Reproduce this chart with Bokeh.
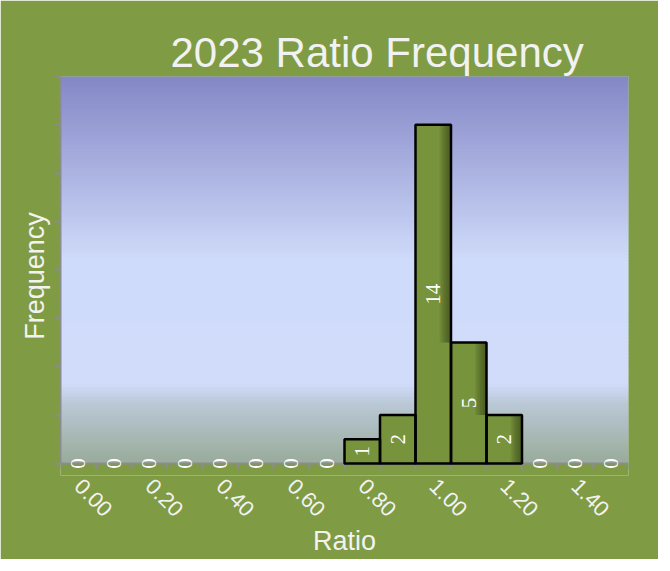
import math
from bokeh.plotting import figure
from bokeh.models import ColumnDataSource, LabelSet, FixedTicker, Range1d
from bokeh.embed import file_html
from bokeh.resources import INLINE

# ---- data ----
ratio_bins = [0.00, 0.10, 0.20, 0.30, 0.40, 0.50, 0.60, 0.70,
              0.80, 0.90, 1.00, 1.10, 1.20, 1.30, 1.40, 1.50]
frequency = [0, 0, 0, 0, 0, 0, 0, 0, 1, 2, 14, 5, 2, 0, 0, 0]
tick_labels = ["0.00", "0.20", "0.40", "0.60", "0.80", "1.00", "1.20", "1.40"]
y_max = 16

# ---- styling ----
FRAME_GREEN = "#7F9B44"
BAR_GREEN = "#77933C"
TEXT = "#F2F2F2"
AXIS_GRAY = "#8C8C8C"
FONT = "Liberation Sans"
Y_PAD = 0.5          # room below the baseline so the "0" labels are not clipped
TICK_LEN = 0.25      # x tick length in data units (~6px)

n = len(ratio_bins)
xs = [i + 0.5 for i in range(n)]
edges = list(range(0, n + 1))

p = figure(width=658, height=559, output_backend="svg", toolbar_location=None,
           x_range=Range1d(0, n), y_range=Range1d(-Y_PAD, y_max),
           min_border_left=60, min_border_right=30, min_border_top=76, min_border_bottom=84)
p.border_fill_color = FRAME_GREEN
p.background_fill_color = FRAME_GREEN
p.outline_line_color = None
p.grid.visible = False

# gradient background of plot area (decorative)
stops = [(0.0, (131, 134, 197)), (0.48, (207, 219, 250)), (0.80, (208, 220, 250)),
         (0.85, (186, 200, 214)), (1.0, (154, 172, 156))]
def grad(t):
    for (t0, c0), (t1, c1) in zip(stops[:-1], stops[1:]):
        if t0 <= t <= t1:
            f = (t - t0) / (t1 - t0) if t1 > t0 else 0
            return "#%02x%02x%02x" % tuple(int(round(a + (b - a) * f)) for a, b in zip(c0, c1))
    return "#%02x%02x%02x" % stops[-1][1]
N = 120
strip = y_max / N
tops, bots, cols = [], [], []
for k in range(N):
    t = (k + 0.5) / N
    tops.append(y_max * (1 - k / N) + strip * 0.6)
    bots.append(y_max * (1 - (k + 1) / N))
    cols.append(grad(t))
p.quad(left=0, right=n, top=tops, bottom=bots, fill_color=cols, line_color=None)

# baseline and category-boundary ticks
p.segment(x0=[0], y0=[0], x1=[n], y1=[0], line_color=AXIS_GRAY, line_width=2)
p.segment(x0=edges, y0=[0] * len(edges), x1=edges, y1=[-TICK_LEN] * len(edges),
          line_color=AXIS_GRAY, line_width=2)

# bars
src = ColumnDataSource(dict(x=xs, top=frequency, label=[str(v) for v in frequency],
                            ly=[v / 2 for v in frequency],
                            edge_alpha=[1.0 if v > 0 else 0.0 for v in frequency]))
p.vbar(x="x", top="top", width=1.0, source=src, fill_color=BAR_GREEN, line_color=None)

# right-side inner shadow on each bar, visible down to the next bar's top
nxt = frequency[1:] + [0]
sh_bottom = [min(a, b) for a, b in zip(frequency, nxt)]
steps = 7
for s in range(steps):
    off0 = 0.18 + s * (0.32 / steps)
    w = 0.5 - off0
    p.vbar(x=[x + off0 + w / 2 for x in xs], top=frequency, bottom=sh_bottom, width=w,
           fill_color="#1E2A08", fill_alpha=0.09, line_color=None)

p.vbar(x="x", top="top", width=1.0, source=src, fill_color=None, line_color="black",
       line_alpha="edge_alpha", line_width=2.5)

labels = LabelSet(x="x", y="ly", text="label", source=src, angle=math.pi / 2,
                  text_align="center", text_baseline="middle", text_color="white",
                  text_font_size="21px", text_font=FONT)
p.add_layout(labels)

# axes
p.xaxis.ticker = FixedTicker(ticks=[xs[i] for i in range(0, n, 2)], minor_ticks=[])
p.xaxis.major_label_overrides = {xs[i]: tick_labels[i // 2] for i in range(0, n, 2)}
p.xaxis.major_label_orientation = -math.pi / 4
p.xaxis.major_label_standoff = 1
p.xaxis.axis_line_color = None
p.xaxis.major_tick_line_color = None
p.xaxis.minor_tick_line_color = None
p.xaxis.axis_label = "Ratio"
p.xaxis.axis_label_standoff = 0

p.yaxis.ticker = FixedTicker(ticks=list(range(0, y_max + 1, 2)))
p.yaxis.bounds = (0, y_max)
p.yaxis.major_label_text_font_size = "0px"
p.yaxis.major_label_text_color = None
p.yaxis.major_tick_out = 6
p.yaxis.major_tick_in = 0
p.yaxis.minor_tick_line_color = None
p.yaxis.axis_line_color = AXIS_GRAY
p.yaxis.axis_line_width = 2
p.yaxis.major_tick_line_color = AXIS_GRAY
p.yaxis.major_tick_line_width = 2
p.yaxis.axis_label = "Frequency"

for ax in (p.xaxis, p.yaxis):
    ax.axis_label_text_color = TEXT
    ax.axis_label_text_font = FONT
    ax.axis_label_text_font_size = "27px"
    ax.axis_label_text_font_style = "normal"

p.xaxis.major_label_text_color = TEXT
p.xaxis.major_label_text_font = FONT
p.xaxis.major_label_text_font_size = "22px"

p.title.text = "2023 Ratio Frequency"
p.title.text_color = TEXT
p.title.text_font = FONT
p.title.text_font_size = "42px"
p.title.text_font_style = "normal"
p.title.align = "left"
p.title.offset = 110
p.title.standoff = 2

open("out.html", "w").write(file_html(p, INLINE))
